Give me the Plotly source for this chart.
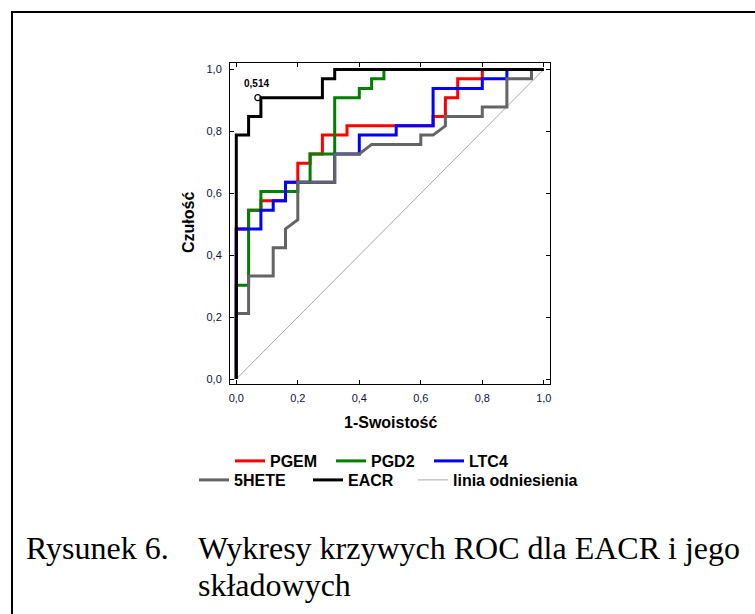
import plotly.graph_objects as go

# ---------------- data ----------------
pgem_fpr = [0, 0, 0.04, 0.04, 0.08, 0.08, 0.16, 0.16, 0.20, 0.20, 0.24, 0.24, 0.28, 0.28,
            0.36, 0.36, 0.64, 0.64, 0.68, 0.68, 0.72, 0.72, 0.80, 0.80, 1.0]
pgem_tpr = [0, 0.485, 0.485, 0.545, 0.545, 0.576, 0.576, 0.636, 0.636, 0.697, 0.697, 0.727, 0.727, 0.788,
            0.788, 0.818, 0.818, 0.848, 0.848, 0.909, 0.909, 0.970, 0.970, 1.0, 1.0]

pgd2_fpr = [0, 0, 0.04, 0.04, 0.08, 0.08, 0.20, 0.20, 0.24, 0.24, 0.32, 0.32, 0.40, 0.40,
            0.44, 0.44, 0.48, 0.48, 1.0]
pgd2_tpr = [0, 0.303, 0.303, 0.545, 0.545, 0.606, 0.606, 0.636, 0.636, 0.727, 0.727, 0.909, 0.909, 0.939,
            0.939, 0.970, 0.970, 1.0, 1.0]

ltc4_fpr = [0, 0, 0.08, 0.08, 0.12, 0.12, 0.16, 0.16, 0.32, 0.32, 0.40, 0.40, 0.52, 0.52,
            0.64, 0.64, 0.80, 0.80, 0.88, 0.88, 1.0]
ltc4_tpr = [0, 0.485, 0.485, 0.545, 0.545, 0.576, 0.576, 0.636, 0.636, 0.727, 0.727, 0.788, 0.788, 0.818,
            0.818, 0.939, 0.939, 0.970, 0.970, 1.0, 1.0]

hete_fpr = [0, 0, 0.04, 0.04, 0.12, 0.12, 0.16, 0.16, 0.20, 0.20, 0.32, 0.32, 0.40, 0.44,
            0.60, 0.60, 0.64, 0.68, 0.68, 0.80, 0.80, 0.88, 0.88, 0.96, 0.96, 1.0]
hete_tpr = [0, 0.212, 0.212, 0.333, 0.333, 0.424, 0.424, 0.485, 0.515, 0.636, 0.636, 0.727, 0.727, 0.758,
            0.758, 0.788, 0.788, 0.818, 0.848, 0.848, 0.879, 0.879, 0.970, 0.970, 1.0, 1.0]

eacr_fpr = [0, 0, 0.04, 0.04, 0.08, 0.08, 0.28, 0.28, 0.32, 0.32, 1.0]
eacr_tpr = [0, 0.788, 0.788, 0.848, 0.848, 0.909, 0.909, 0.970, 0.970, 1.0, 1.0]

ref_fpr = [0, 1.0]
ref_tpr = [0, 1.0]

cutoff_point = (0.07, 0.909)
cutoff_label = "0,514"

tick_vals = [0, 0.2, 0.4, 0.6, 0.8, 1.0]

# ---------------- layout geometry ----------------
W, H = 755, 614
L, R, T, B = 230, 205, 63, 230
PW, PH = W - L - R, H - T - B


def paper_x(px):
    return (px - L) / PW


def paper_y(py):
    return (H - B - py) / PH


SANS = "Liberation Sans, Arial, sans-serif"
SERIF = "Liberation Serif, Times New Roman, serif"

fig = go.Figure()

series = [
    ("linia odniesienia", ref_fpr, ref_tpr, "#a8a8a8", 1, "legend6"),
    ("PGEM", pgem_fpr, pgem_tpr, "#ff0000", 3, "legend"),
    ("PGD2", pgd2_fpr, pgd2_tpr, "#008000", 3, "legend2"),
    ("LTC4", ltc4_fpr, ltc4_tpr, "#0000ff", 3, "legend3"),
    ("5HETE", hete_fpr, hete_tpr, "#646464", 3, "legend4"),
    ("EACR", eacr_fpr, eacr_tpr, "#000000", 3, "legend5"),
]
for name, xs, ys, color, width, leg in series:
    fig.add_trace(go.Scatter(x=xs, y=ys, mode="lines", name=name, legend=leg,
                             line=dict(color=color, width=width),
                             hoverinfo="skip"))

fig.add_trace(go.Scatter(x=[cutoff_point[0]], y=[cutoff_point[1]], mode="markers",
                         marker=dict(symbol="circle-open", size=6, color="#000000",
                                     line=dict(width=1.2, color="#000000")),
                         showlegend=False, hoverinfo="skip"))

fig.add_annotation(x=cutoff_point[0], y=cutoff_point[1], xref="x", yref="y",
                   text=cutoff_label, showarrow=False, yshift=14, xshift=-1,
                   font=dict(family=SANS, size=10, color="#000000", weight="bold"))

# legends: (text-left px, centre-y px)
legend_slots = {
    "legend": (270, 461), "legend2": (371, 461), "legend3": (469, 461),
    "legend4": (234, 480), "legend5": (348, 480), "legend6": (453, 480),
}
leg_layout = {}
for key, (tx, ty) in legend_slots.items():
    leg_layout[key] = dict(
        xref="container", yref="container",
        x=(tx - 40) / W, y=1 - ty / H, xanchor="left", yanchor="middle",
        bgcolor="rgba(0,0,0,0)", borderwidth=0, itemwidth=30,
        font=dict(family=SANS, size=16, color="#000000", weight="bold"),
    )

axis_common = dict(
    showgrid=False, zeroline=False, showline=True, linecolor="#000000", linewidth=1,
    mirror="ticks", ticks="inside", ticklen=4, tickwidth=1, tickcolor="#000000",
    tickvals=tick_vals, tickformat=".1f", automargin=False,
    tickfont=dict(family=SANS, size=11, color="#10103a"),
)

fig.update_layout(
    width=W, height=H,
    margin=dict(l=L, r=R, t=T, b=B, autoexpand=False),
    paper_bgcolor="#ffffff", plot_bgcolor="#ffffff",
    separators=", ",
    showlegend=True,
    xaxis=dict(range=[-0.0205, 1.0202], ticklabelstandoff=4, **axis_common),
    yaxis=dict(range=[-0.016, 1.021], ticklabelstandoff=5, **axis_common),
    **leg_layout,
)

# axis titles
title_font = dict(family=SANS, size=16, color="#000000", weight="bold")
fig.add_annotation(xref="paper", yref="paper", x=paper_x(390), y=paper_y(423),
                   xanchor="center", yanchor="middle", showarrow=False,
                   text="1-Swoistość", font=title_font)
fig.add_annotation(xref="paper", yref="paper", x=paper_x(188), y=paper_y(223),
                   xanchor="center", yanchor="middle", showarrow=False, textangle=-90,
                   text="Czułość", font=title_font)

# outer frame of the figure box (continues beyond the right and bottom edges)
fig.add_shape(type="rect", xref="paper", yref="paper",
              x0=paper_x(12), x1=paper_x(820), y0=paper_y(700), y1=paper_y(12),
              line=dict(color="#000000", width=2), fillcolor="rgba(0,0,0,0)", layer="above")

# caption
fig.add_annotation(xref="paper", yref="paper", x=paper_x(24), y=paper_y(548),
                   xanchor="left", yanchor="middle", showarrow=False,
                   text="Rysunek 6.", font=dict(family=SERIF, size=32, color="#000000"))
fig.add_annotation(xref="paper", yref="paper", x=paper_x(196), y=paper_y(548),
                   xanchor="left", yanchor="middle", showarrow=False,
                   text="Wykresy krzywych ROC dla EACR i jego",
                   font=dict(family=SERIF, size=32, color="#000000"))
fig.add_annotation(xref="paper", yref="paper", x=paper_x(196), y=paper_y(585),
                   xanchor="left", yanchor="middle", showarrow=False,
                   text="składowych", font=dict(family=SERIF, size=32, color="#000000"))

fig.write_html("out.html")
